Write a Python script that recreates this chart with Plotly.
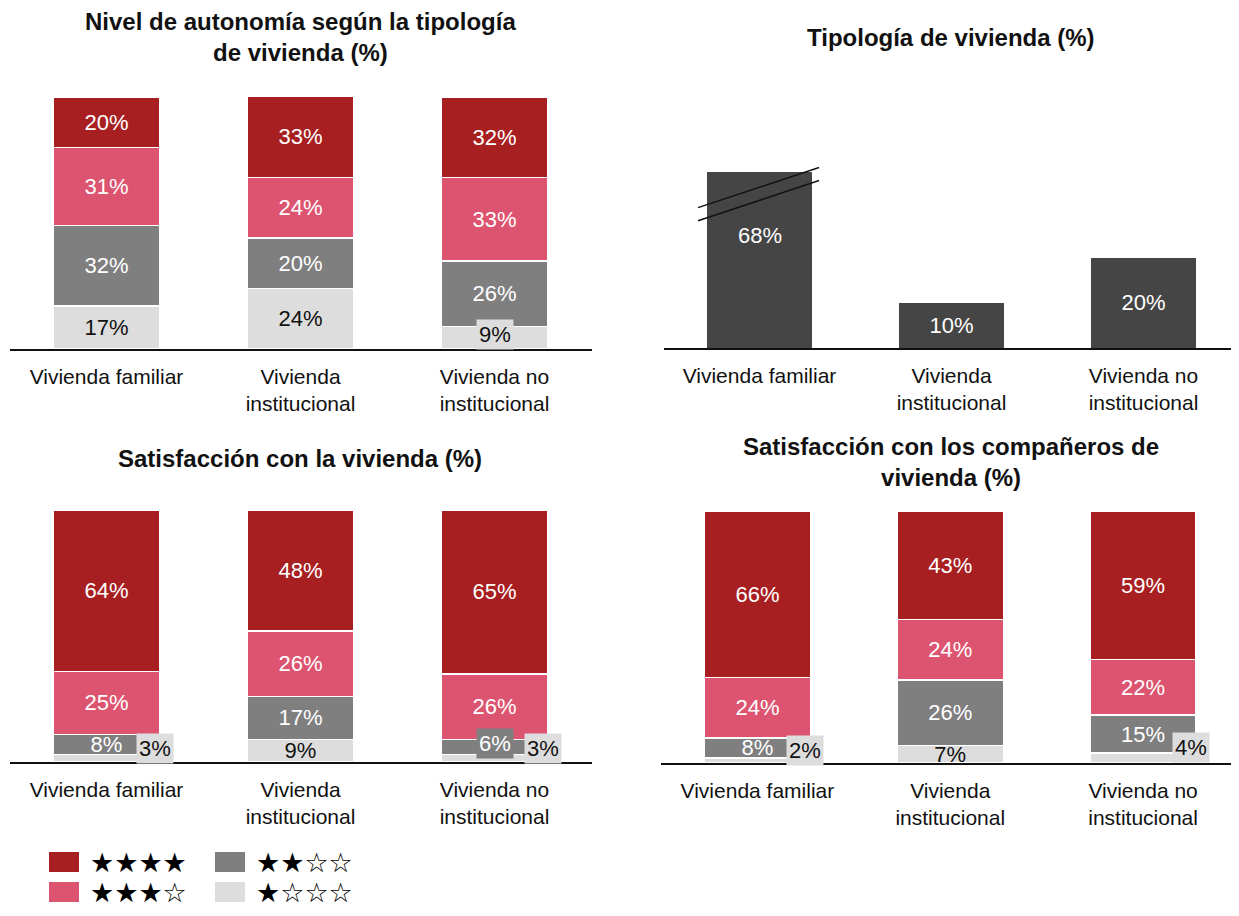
import plotly.graph_objects as go

# --- data -----------------------------------------------------------------
categories = ["Vivienda familiar", "Vivienda institucional", "Vivienda no institucional"]
tick_labels = ["Vivienda familiar", "Vivienda<br>institucional", "Vivienda no<br>institucional"]
levels = ["★☆☆☆", "★★☆☆", "★★★☆", "★★★★"]  # bottom -> top of each stack

# Nivel de autonomía según la tipología de vivienda (%)
autonomia_1 = [17, 24, 9]
autonomia_2 = [32, 20, 26]
autonomia_3 = [31, 24, 33]
autonomia_4 = [20, 33, 32]

# Tipología de vivienda (%)
tipologia = [68, 10, 20]

# Satisfacción con la vivienda (%)
sat_viv_1 = [3, 9, 3]
sat_viv_2 = [8, 17, 6]
sat_viv_3 = [25, 26, 26]
sat_viv_4 = [64, 48, 65]

# Satisfacción con los compañeros de vivienda (%)
sat_comp_1 = [2, 7, 4]
sat_comp_2 = [8, 26, 15]
sat_comp_3 = [24, 24, 22]
sat_comp_4 = [66, 43, 59]

# --- style ----------------------------------------------------------------
# page has an 8px body margin, so the figure is a bit smaller than the window
OFF = 8
W, H = 1239 - 2 * OFF, 916 - 2 * OFF
FONT = "Liberation Sans, Arial, Helvetica, sans-serif"
level_colors = ["#DDDDDD", "#7F7F7F", "#DD5470", "#A81F21"]
level_text = ["#111111", "#FFFFFF", "#FFFFFF", "#FFFFFF"]
DARK = "#454545"
TIPO_MAX = 39  # top of the broken axis in the "Tipología" panel


def px_x(v):
    return (v - OFF) / W


def px_y(v):
    return 1 - (v - OFF) / H


fig = go.Figure()


def add_stack(series, axis_id, callouts):
    xa, ya = f"x{axis_id}", f"y{axis_id}"
    base = [0, 0, 0]
    for lvl, vals in enumerate(series):
        text = []
        for i, v in enumerate(vals):
            kind = callouts.get((lvl, i))
            if kind is None:
                text.append(f"{v}%")
            else:
                text.append("")
                fig.add_annotation(
                    x=categories[i], y=base[i] + v / 2, xref=xa, yref=ya,
                    text=f"{v}%", showarrow=False,
                    font=dict(size=22, color=level_text[lvl] if kind == "box" else "#111111",
                              family=FONT),
                    bgcolor=level_colors[lvl] if kind == "box" else level_colors[0],
                    borderpad=2,
                    xshift=48 if kind == "side" else 0,
                    yshift=10 if kind == "side" else 3,
                )
        fig.add_trace(go.Bar(
            x=categories, y=vals, xaxis=xa, yaxis=ya,
            marker=dict(color=level_colors[lvl], line=dict(color="white", width=1.5)),
            text=text, textposition="inside", insidetextanchor="middle",
            constraintext="none", textangle=0,
            textfont=dict(size=22, color=level_text[lvl], family=FONT),
            showlegend=False, hoverinfo="skip",
        ))
        base = [b + v for b, v in zip(base, vals)]


add_stack([autonomia_1, autonomia_2, autonomia_3, autonomia_4], 1, {(0, 2): "box"})
add_stack([sat_viv_1, sat_viv_2, sat_viv_3, sat_viv_4], 3,
          {(0, 0): "side", (1, 2): "box", (0, 2): "side"})
add_stack([sat_comp_1, sat_comp_2, sat_comp_3, sat_comp_4], 4,
          {(0, 0): "side", (0, 2): "side"})

# Tipología panel: the first bar runs past the axis top (broken bar)
fig.add_trace(go.Bar(
    x=categories, y=tipologia, xaxis="x2", yaxis="y2",
    marker=dict(color=DARK, line=dict(width=0)),
    text=[("" if v > TIPO_MAX else f"{v}%") for v in tipologia],
    textposition="inside", insidetextanchor="middle", constraintext="none", textangle=0,
    textfont=dict(size=22, color="white", family=FONT),
    showlegend=False, hoverinfo="skip",
))

# plot areas in page pixels: (left, right, bottom, top)
boxes = {
    1: (9.5, 591.5, 349, 97),
    2: (663.5, 1239.5, 348, 172),
    3: (9.5, 591.5, 762, 510),
    4: (661, 1239.5, 763, 511),
}
page_right = OFF + W
layout_axes = {}
for k, (l, r, b, t) in boxes.items():
    sfx = "" if k == 1 else str(k)
    step = (r - l) / 3
    r_vis = min(r, page_right)
    layout_axes[f"xaxis{sfx}"] = dict(
        domain=[px_x(l), px_x(r_vis)], anchor=f"y{k}", type="category",
        range=[-0.5, -0.5 + (r_vis - l) / step],
        tickvals=categories, ticktext=tick_labels, ticks="", showgrid=False,
        showline=True, linecolor="#111111", linewidth=1.5, zeroline=False,
        tickfont=dict(size=21, color="#111111", family=FONT), ticklabelstandoff=8,
        fixedrange=True,
    )
    layout_axes[f"yaxis{sfx}"] = dict(
        domain=[px_y(b), px_y(t)], anchor=f"x{k}", visible=False, showgrid=False,
        zeroline=False, range=[0, TIPO_MAX] if k == 2 else [0, 100], fixedrange=True,
    )

fig.update_layout(
    width=W, height=H, margin=dict(l=0, r=0, t=0, b=0),
    paper_bgcolor="white", plot_bgcolor="white",
    barmode="stack", bargap=0.45,
    font=dict(family=FONT, color="#111111"),
    **layout_axes,
)

# label of the broken bar
for i, v in enumerate(tipologia):
    if v > TIPO_MAX:
        fig.add_annotation(x=categories[i], y=TIPO_MAX * 0.64, xref="x2", yref="y2",
                           text=f"{v}%", showarrow=False,
                           font=dict(size=22, color="white", family=FONT))

# break marks (paper y so they are not clipped at the axis top)
y2_bot, y2_top = px_y(boxes[2][2]), px_y(boxes[2][3])


def y2_paper(v):
    return y2_bot + v / TIPO_MAX * (y2_top - y2_bot)


for lo, hi in [(31.1, 40.0), (28.2, 37.1)]:
    fig.add_shape(type="line", xref="x2", yref="paper",
                  x0=-0.32, x1=0.31, y0=y2_paper(lo), y1=y2_paper(hi),
                  line=dict(color="#111111", width=1.5))

# titles
titles = [
    ("Nivel de autonomía según la tipología<br>de vivienda (%)", 300, 37),
    ("Tipología de vivienda (%)", 951, 37),
    ("Satisfacción con la vivienda (%)", 300, 459),
    ("Satisfacción con los compañeros de<br>vivienda (%)", 951, 461.5),
]
for txt, cx, cy in titles:
    fig.add_annotation(x=px_x(cx), y=px_y(cy), xref="paper", yref="paper",
                       text=f"<b>{txt}</b>", showarrow=False,
                       xanchor="center", yanchor="middle",
                       font=dict(size=24, color="#111111", family=FONT))

# legend: swatches + star ratings
legend_pos = {3: (49, 862), 2: (49, 892), 1: (215, 862), 0: (215, 892)}
for lvl, (lx, ly) in legend_pos.items():
    fig.add_shape(type="rect", xref="paper", yref="paper",
                  x0=px_x(lx), x1=px_x(lx + 30), y0=px_y(ly + 10), y1=px_y(ly - 10),
                  fillcolor=level_colors[lvl], line=dict(width=0))
    fig.add_annotation(x=px_x(lx + 40), y=px_y(ly), xref="paper", yref="paper",
                       text=levels[lvl], showarrow=False,
                       xanchor="left", yanchor="middle", borderpad=0,
                       font=dict(size=27, color="#000000", family="DejaVu Sans"))

fig.write_html("out.html")
